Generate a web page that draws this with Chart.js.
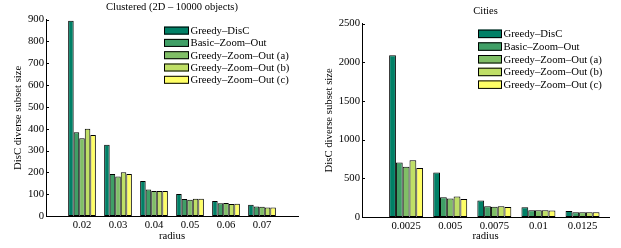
<!DOCTYPE html>
<html>
<head>
<meta charset="utf-8">
<script src="https://cdn.jsdelivr.net/npm/chart.js@4/dist/chart.umd.min.js"></script>
<style>
  html, body { margin: 0; padding: 0; background: #fff; }
  #wrap { position: relative; width: 621px; height: 248px; overflow: hidden; }
  .box { position: absolute; top: 0; height: 248px; }
</style>
</head>
<body>
<div id="wrap">
  <div class="box" style="left:0;width:310px"><canvas id="c1"></canvas></div>
  <div class="box" style="left:310px;width:311px"><canvas id="c2"></canvas></div>
</div>
<script>
// ---- data ----
const seriesNames = ['Greedy\u2013DisC', 'Basic\u2013Zoom\u2013Out', 'Greedy\u2013Zoom\u2013Out (a)', 'Greedy\u2013Zoom\u2013Out (b)', 'Greedy\u2013Zoom\u2013Out (c)'];
const seriesColors = ['rgb(0,128,102)', 'rgb(64,159,102)', 'rgb(128,191,102)', 'rgb(191,223,102)', 'rgb(255,255,102)'];

const clusteredTitle = 'Clustered (2D \u2013 10000 objects)';
const clusteredRadius = ['0.02', '0.03', '0.04', '0.05', '0.06', '0.07'];
const clusteredGreedyDisC = [895, 327, 160, 101, 69, 52];
const clusteredBasicZoomOut = [384, 192, 121, 78, 58, 44];
const clusteredGreedyZoomOutA = [356, 181, 115, 74, 59, 42];
const clusteredGreedyZoomOutB = [400, 201, 115, 79, 55, 39];
const clusteredGreedyZoomOutC = [371, 192, 115, 79, 56, 39];
const clusteredYTicks = [0, 100, 200, 300, 400, 500, 600, 700, 800, 900];

const citiesTitle = 'Cities';
const citiesRadius = ['0.0025', '0.005', '0.0075', '0.01', '0.0125'];
const citiesGreedyDisC = [2090, 575, 212, 126, 77];
const citiesBasicZoomOut = [705, 255, 140, 88, 60];
const citiesGreedyZoomOutA = [650, 240, 132, 88, 60];
const citiesGreedyZoomOutB = [735, 265, 140, 88, 60];
const citiesGreedyZoomOutC = [635, 232, 128, 85, 60];
const citiesYTicks = [0, 500, 1000, 1500, 2000, 2500];

const FONT = 'Liberation Serif';

// legend inside plot + inward y ticks
const matlabPlugin = {
  id: 'matlab',
  afterDraw(chart, args, opts) {
    const ctx = chart.ctx;
    const ca = chart.chartArea;
    const y = chart.scales.y;
    ctx.save();
    ctx.strokeStyle = '#000';
    ctx.lineWidth = 1;
    y.ticks.forEach(t => {
      const py = Math.round(y.getPixelForValue(t.value)) + 0.5;
      ctx.beginPath();
      ctx.moveTo(ca.left, py);
      ctx.lineTo(ca.left + 3, py);
      ctx.stroke();
    });
    // legend
    const bx = ca.right - opts.fromRight;
    let by = ca.top + opts.fromTop;
    ctx.font = opts.fontSize + 'px "' + FONT + '"';
    ctx.textBaseline = 'middle';
    ctx.textAlign = 'left';
    chart.data.datasets.forEach(ds => {
      ctx.fillStyle = ds.backgroundColor;
      ctx.fillRect(bx, by, opts.boxW, opts.boxH);
      ctx.strokeStyle = '#000';
      ctx.strokeRect(bx + 0.5, by + 0.5, opts.boxW - 1, opts.boxH - 1);
      ctx.fillStyle = '#000';
      ctx.fillText(ds.label, bx + opts.boxW + 1.5, by + opts.boxH / 2 + 0.5);
      by += opts.rowH;
    });
    ctx.restore();
  }
};

function makeChart(id, cfg) {
  const datasets = cfg.series.map((vals, k) => ({
    label: seriesNames[k],
    data: vals.map((v, i) => ({ x: i + 1, y: v })),
    backgroundColor: seriesColors[k],
    borderColor: '#000',
    borderWidth: 1,
    borderSkipped: false,
    barPercentage: 1.0,
    categoryPercentage: 0.77
  }));
  return new Chart(document.getElementById(id), {
    type: 'bar',
    data: { datasets },
    plugins: [matlabPlugin],
    options: {
      responsive: true,
      maintainAspectRatio: false,
      animation: false,
      layout: { padding: { left: 0, right: cfg.padRight, top: 0, bottom: 0 } },
      plugins: {
        legend: { display: false },
        tooltip: { enabled: false },
        title: {
          display: true,
          fullSize: false,
          text: cfg.title,
          color: '#000',
          font: { family: FONT, size: 10.5, weight: 'normal' },
          padding: { top: cfg.titleTop, bottom: cfg.titleBottom }
        },
        matlab: cfg.legend
      },
      scales: {
        x: {
          type: 'linear',
          min: 0,
          max: cfg.xMax,
          offset: false,
          grid: { display: false, drawTicks: false },
          border: { display: true, color: '#000', width: 1 },
          afterBuildTicks: s => { s.ticks = cfg.categories.map((c, i) => ({ value: i + 1 })); },
          afterFit: s => { s.height = cfg.xAxisH; },
          ticks: {
            autoSkip: false, maxRotation: 0, padding: 3, color: '#000',
            font: { family: FONT, size: 10.7 },
            callback: v => cfg.categories[v - 1]
          },
          title: {
            display: true, text: 'radius', color: '#000',
            font: { family: FONT, size: 10.7 },
            padding: { top: 0, bottom: 5 }
          }
        },
        y: {
          min: 0,
          max: cfg.yTicks[cfg.yTicks.length - 1],
          grid: { display: false, drawTicks: false },
          border: { display: true, color: '#000', width: 1 },
          afterBuildTicks: s => { s.ticks = cfg.yTicks.map(v => ({ value: v })); },
          afterFit: s => { s.width = cfg.yAxisW; },
          ticks: {
            padding: 2, color: '#000', font: { family: FONT, size: 10.7 },
            callback: v => String(v)
          },
          title: {
            display: true, text: 'DisC diverse subset size', color: '#000',
            font: { family: FONT, size: 10.7 },
            padding: { top: cfg.yTitleTop, bottom: 0 }
          }
        }
      }
    }
  });
}

makeChart('c1', {
  title: clusteredTitle,
  categories: clusteredRadius,
  series: [clusteredGreedyDisC, clusteredBasicZoomOut, clusteredGreedyZoomOutA, clusteredGreedyZoomOutB, clusteredGreedyZoomOutC],
  yTicks: clusteredYTicks,
  xMax: 7,
  padRight: 12,
  titleTop: 1,
  titleBottom: 6,
  xAxisH: 32,
  yAxisW: 46,
  yTitleTop: 12,
  legend: { fromRight: 134, fromTop: 7, boxW: 25, boxH: 8, rowH: 12.3, fontSize: 10.7 }
});

makeChart('c2', {
  title: citiesTitle,
  categories: citiesRadius,
  series: [citiesGreedyDisC, citiesBasicZoomOut, citiesGreedyZoomOutA, citiesGreedyZoomOutB, citiesGreedyZoomOutC],
  yTicks: citiesYTicks,
  xMax: 5.6,
  padRight: 12,
  titleTop: 5,
  titleBottom: 6,
  xAxisH: 31,
  yAxisW: 52,
  yTitleTop: 13,
  legend: { fromRight: 131, fromTop: 6, boxW: 24, boxH: 8.5, rowH: 12.7, fontSize: 10.7 }
});
</script>
</body>
</html>
